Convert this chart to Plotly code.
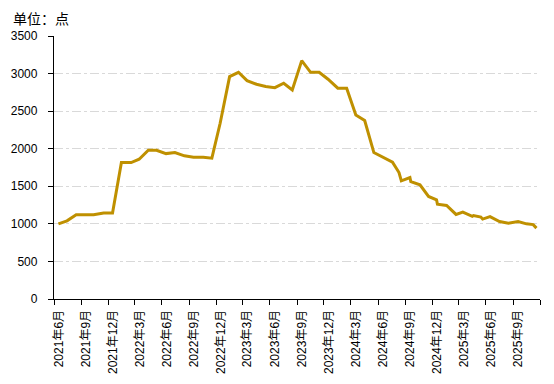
import plotly.graph_objects as go

dates = [
    "2021-06-16", "2021-07-15", "2021-08-15", "2021-10-13", "2021-11-16", "2021-12-16",
    "2022-01-15", "2022-02-17", "2022-03-16", "2022-04-16", "2022-05-14", "2022-06-15",
    "2022-07-15", "2022-08-16", "2022-09-16", "2022-10-19", "2022-11-17", "2022-12-15",
    "2023-01-16", "2023-02-15", "2023-03-16", "2023-04-17", "2023-05-18", "2023-06-18",
    "2023-07-18", "2023-08-16", "2023-09-17", "2023-10-17", "2023-11-15", "2023-12-15",
    "2024-01-17", "2024-02-16", "2024-03-18", "2024-04-17", "2024-05-18", "2024-06-19",
    "2024-07-20", "2024-08-11", "2024-08-19", "2024-09-17", "2024-09-20", "2024-10-21",
    "2024-11-19", "2024-12-16", "2024-12-19", "2025-01-19", "2025-02-20", "2025-03-15",
    "2025-04-16", "2025-04-20", "2025-05-15", "2025-05-21", "2025-06-15", "2025-07-17",
    "2025-08-16", "2025-09-18", "2025-10-16", "2025-11-08", "2025-11-19",
]
values = [
    1000, 1040, 1120, 1120, 1145, 1145,
    1816, 1816, 1860, 1980, 1980, 1935,
    1950, 1905, 1887, 1887, 1874, 2339,
    2960, 3017, 2906, 2858, 2827, 2813,
    2871, 2782, 3172, 3017, 3017, 2925,
    2805, 2805, 2450, 2375, 1949, 1887,
    1821, 1683, 1572, 1616, 1563, 1519,
    1365, 1320, 1262, 1244, 1125, 1156,
    1100, 1110, 1090, 1063, 1097, 1031,
    1009, 1031, 1000, 990, 943,
]

tick_dates = [
    "2021-06-01", "2021-09-01", "2021-12-01", "2022-03-01", "2022-06-01", "2022-09-01",
    "2022-12-01", "2023-03-01", "2023-06-01", "2023-09-01", "2023-12-01", "2024-03-01",
    "2024-06-01", "2024-09-01", "2024-12-01", "2025-03-01", "2025-06-01", "2025-09-01",
    "2025-12-01",
]
tick_labels = [
    "2021年6月", "2021年9月", "2021年12月", "2022年3月", "2022年6月", "2022年9月",
    "2022年12月", "2023年3月", "2023年6月", "2023年9月", "2023年12月", "2024年3月",
    "2024年6月", "2024年9月", "2024年12月", "2025年3月", "2025年6月", "2025年9月",
    "",
]
y_ticks = [0, 500, 1000, 1500, 2000, 2500, 3000, 3500]

FONT = "Liberation Sans, Noto Sans CJK SC, sans-serif"

fig = go.Figure()
fig.add_trace(go.Scatter(
    x=dates, y=values, mode="lines",
    line=dict(color="#BF9000", width=3),
    hoverinfo="skip", showlegend=False,
))

# page body has an 8px default margin, so the figure is sized/offset to compensate
fig.update_layout(
    width=546, height=376,
    margin=dict(l=46, r=14, t=28, b=85),
    paper_bgcolor="white", plot_bgcolor="white",
    font=dict(family=FONT, size=12, color="#000000"),
    annotations=[dict(
        text="单位：点", xref="paper", yref="paper", x=0, y=1,
        xanchor="left", yanchor="bottom", showarrow=False,
        font=dict(family="Noto Sans CJK SC, sans-serif", size=14, color="#000000"),
        xshift=-42, yshift=7, borderpad=0,
    )],
)

fig.update_xaxes(
    type="date", automargin=False,
    range=["2021-06-01", "2025-12-01"],
    tickmode="array", tickvals=tick_dates, ticktext=tick_labels,
    tickangle=-90,
    ticks="outside", ticklen=5, tickcolor="#000000", tickwidth=1,
    showline=True, linecolor="#000000", linewidth=1.3,
    showgrid=False, zeroline=False,
    tickfont=dict(family=FONT, size=12, color="#000000"),
    ticklabelshift=5,
)
fig.update_yaxes(
    automargin=False,
    range=[0, 3500],
    tickmode="array", tickvals=y_ticks,
    ticks="outside", ticklen=5, tickcolor="#000000", tickwidth=1,
    showline=True, linecolor="#000000", linewidth=1.3,
    showgrid=True, gridcolor="#D9D9D9", griddash="dashdot", gridwidth=1,
    zeroline=False,
    tickfont=dict(family=FONT, size=12, color="#000000"),
    ticklabelstandoff=8,
)

fig.write_html("out.html")
